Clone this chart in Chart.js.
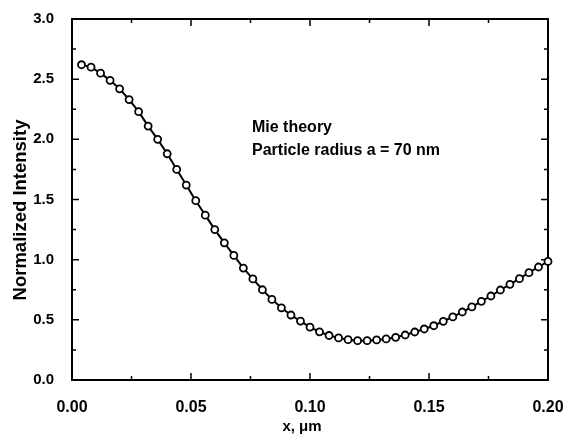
<!DOCTYPE html>
<html>
<head>
<meta charset="utf-8">
<script src="https://cdn.jsdelivr.net/npm/chart.js@4/dist/chart.umd.min.js"></script>
<style>
  html, body { margin: 0; padding: 0; background: #fff; }
  #wrap { width: 566px; height: 437px; }
</style>
</head>
<body>
<div id="wrap"><canvas id="mieChart" width="566" height="437"></canvas></div>
<script>
// x positions (um) of the computed points
const xValues = [
  0.004, 0.008, 0.012, 0.016, 0.020, 0.024, 0.028, 0.032, 0.036, 0.040,
  0.044, 0.048, 0.052, 0.056, 0.060, 0.064, 0.068, 0.072, 0.076, 0.080,
  0.084, 0.088, 0.092, 0.096, 0.100, 0.104, 0.108, 0.112, 0.116, 0.120,
  0.124, 0.128, 0.132, 0.136, 0.140, 0.144, 0.148, 0.152, 0.156, 0.160,
  0.164, 0.168, 0.172, 0.176, 0.180, 0.184, 0.188, 0.192, 0.196, 0.200
];
// normalized intensity
const intensity = [
  2.62, 2.60, 2.55, 2.49, 2.42, 2.33, 2.23, 2.11, 2.00, 1.88,
  1.75, 1.62, 1.49, 1.37, 1.25, 1.14, 1.035, 0.93, 0.84, 0.75,
  0.67, 0.60, 0.54, 0.49, 0.44, 0.40, 0.37, 0.35, 0.335, 0.327,
  0.327, 0.333, 0.341, 0.355, 0.374, 0.399, 0.424, 0.451, 0.488, 0.524,
  0.565, 0.607, 0.654, 0.698, 0.748, 0.795, 0.842, 0.892, 0.939, 0.985
];
const xMinorTicks = [0.025, 0.075, 0.125, 0.175];
const yMinorTicks = [0.25, 0.75, 1.25, 1.75, 2.25, 2.75];
const annotationLines = ["Mie theory", "Particle radius a = 70 nm"];
const xTitle = "x, \u03bcm";
const yTitle = "Normalized Intensity";

const FONT = "'Liberation Sans', Arial, sans-serif";

// box with inward ticks on all four sides, plus titles and the note
const frameTicks = {
  id: 'frameTicks',
  beforeDatasetsDraw(chart) {
    const ctx = chart.ctx;
    const a = chart.chartArea;
    const xs = chart.scales.x, ys = chart.scales.y;
    ctx.save();
    ctx.strokeStyle = '#000';
    ctx.lineWidth = 2;
    ctx.strokeRect(a.left, a.top, a.right - a.left, a.bottom - a.top);

    ctx.lineWidth = 1.5;
    ctx.beginPath();
    const tickX = (v, len) => {
      const px = xs.getPixelForValue(v);
      ctx.moveTo(px, a.bottom); ctx.lineTo(px, a.bottom - len);
      ctx.moveTo(px, a.top); ctx.lineTo(px, a.top + len);
    };
    const tickY = (v, len) => {
      const py = ys.getPixelForValue(v);
      ctx.moveTo(a.left, py); ctx.lineTo(a.left + len, py);
      ctx.moveTo(a.right, py); ctx.lineTo(a.right - len, py);
    };
    xs.ticks.forEach(t => tickX(t.value, 7));
    ys.ticks.forEach(t => tickY(t.value, 7));
    xMinorTicks.forEach(v => tickX(v, 4));
    yMinorTicks.forEach(v => tickY(v, 4));
    ctx.stroke();
    ctx.restore();
  },
  afterDraw(chart) {
    const ctx = chart.ctx;
    ctx.save();
    ctx.fillStyle = '#000';
    ctx.font = 'bold 16px ' + FONT;
    ctx.textBaseline = 'alphabetic';
    ctx.textAlign = 'left';
    ctx.fillText(annotationLines[0], 252, 132);
    ctx.fillText(annotationLines[1], 252, 155);

    ctx.font = 'bold 15px ' + FONT;
    ctx.textAlign = 'center';
    ctx.textBaseline = 'middle';
    ctx.fillText(xTitle, 302, 427);

    ctx.translate(21, 210);
    ctx.rotate(-Math.PI / 2);
    ctx.font = 'bold 18.5px ' + FONT;
    ctx.fillText(yTitle, 0, 0);
    ctx.restore();
  }
};

const data = {
  datasets: [{
    data: xValues.map((x, i) => ({ x: x, y: intensity[i] })),
    borderColor: '#000',
    borderWidth: 2,
    pointRadius: 3.5,
    pointBackgroundColor: '#fff',
    pointBorderColor: '#000',
    pointBorderWidth: 1.8,
    tension: 0,
    clip: false
  }]
};

const config = {
  type: 'line',
  data: data,
  options: {
    responsive: false,
    animation: false,
    layout: { padding: { top: 19, right: 18, left: 0, bottom: 0 } },
    plugins: { legend: { display: false }, tooltip: { enabled: false } },
    scales: {
      x: {
        type: 'linear',
        min: 0,
        max: 0.2,
        grid: { display: false },
        border: { display: false },
        ticks: {
          stepSize: 0.05,
          padding: 10,
          color: '#000',
          font: { family: FONT, size: 16, weight: 'bold' },
          callback: v => v.toFixed(2),
          maxRotation: 0
        },
        afterFit: s => { s.height = 57; s.paddingLeft = 0; s.paddingRight = 0; }
      },
      y: {
        min: 0,
        max: 3,
        grid: { display: false },
        border: { display: false },
        ticks: {
          stepSize: 0.5,
          padding: 10,
          color: '#000',
          font: { family: FONT, size: 15, weight: 'bold' },
          callback: v => v.toFixed(1)
        },
        afterFit: s => { s.width = 72; s.paddingTop = 0; s.paddingBottom = 0; }
      }
    }
  },
  plugins: [frameTicks]
};

new Chart(document.getElementById('mieChart'), config);
</script>
</body>
</html>
